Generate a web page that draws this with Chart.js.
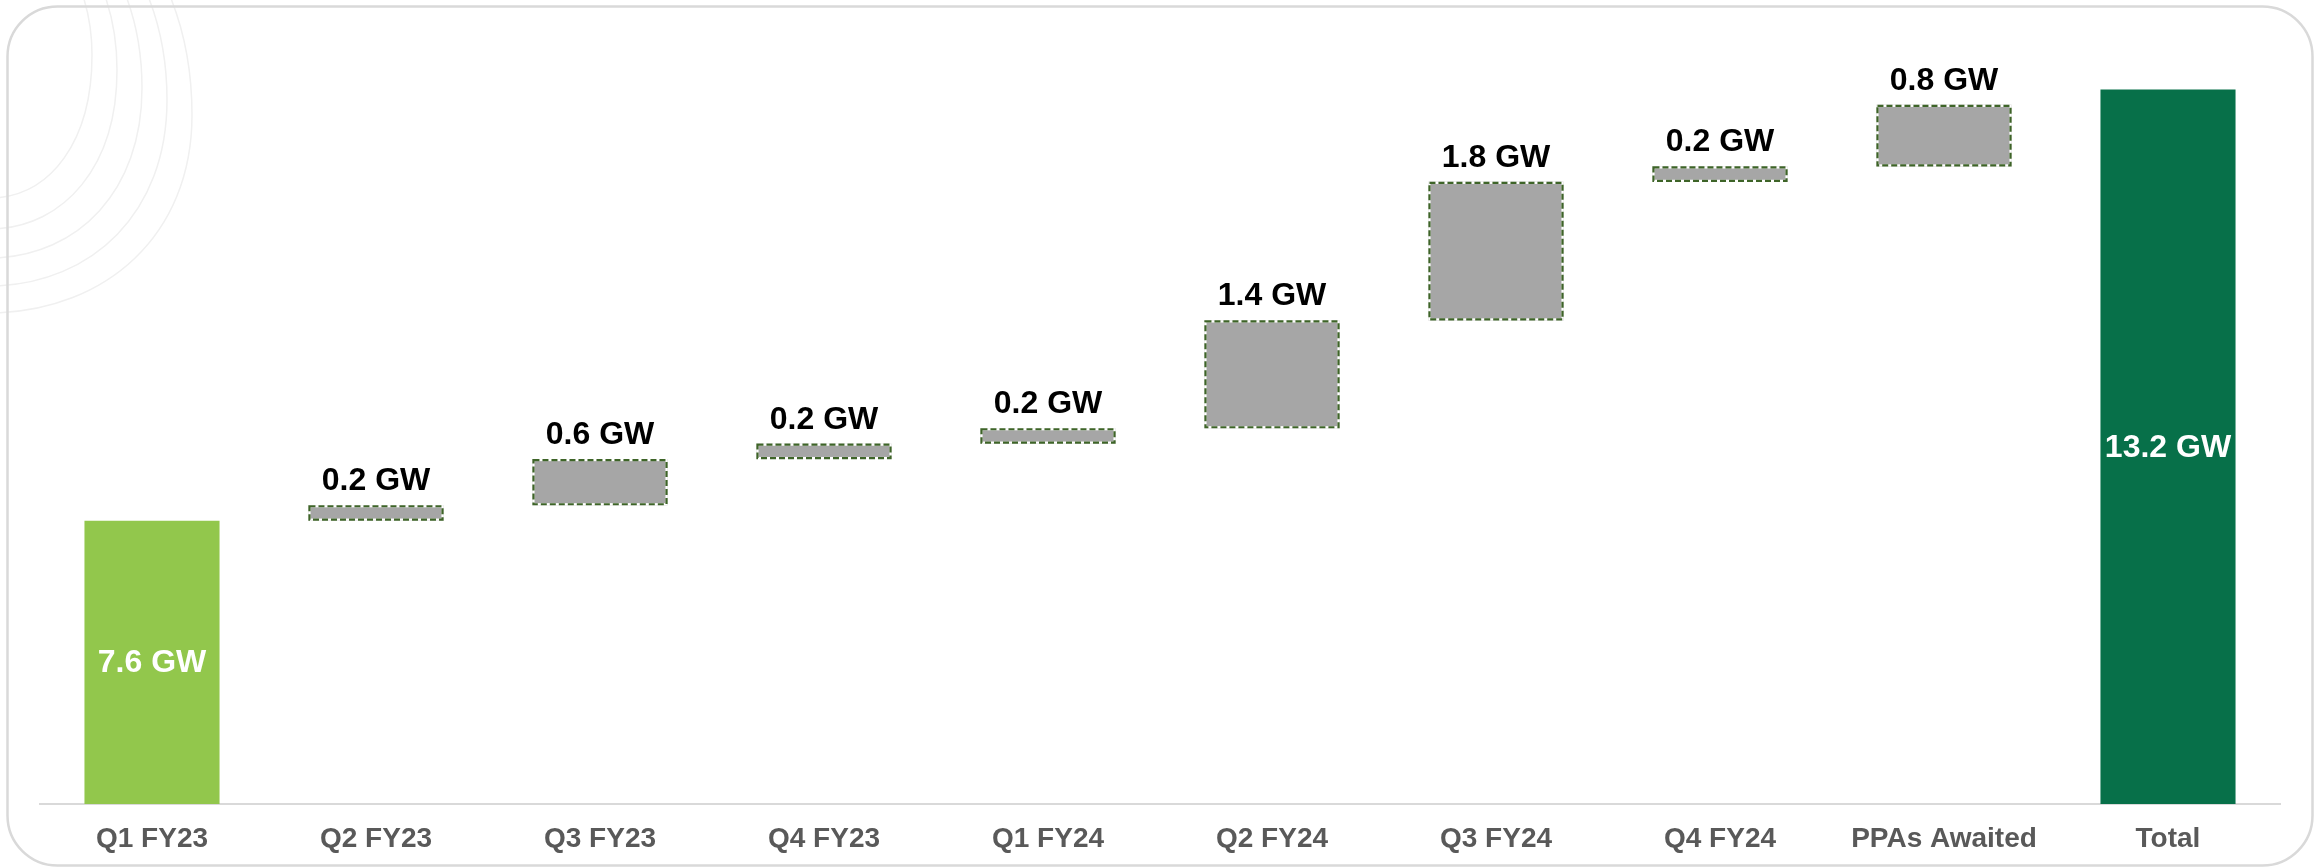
<!DOCTYPE html>
<html>
<head>
<meta charset="utf-8">
<title>Capacity build-up</title>
<script src="https://cdn.jsdelivr.net/npm/chart.js@4.4.1/dist/chart.umd.min.js"></script>
<style>
  html, body { margin: 0; padding: 0; background: #ffffff; }
  #wrap { width: 2318px; height: 868px; position: relative; }
</style>
</head>
<body>
<div id="wrap"><canvas id="chart"></canvas></div>
<script>
// capacity in GW
const categories = ['Q1 FY23', 'Q2 FY23', 'Q3 FY23', 'Q4 FY23', 'Q1 FY24', 'Q2 FY24', 'Q3 FY24', 'Q4 FY24', 'PPAs Awaited', 'Total'];
const startCapacity = 7.6;
const additions = [0.2, 0.6, 0.2, 0.2, 1.4, 1.8, 0.2, 0.8];
const totalCapacity = 13.2;
const unit = 'GW';

// floating bars: each step starts where the previous one ended
const barData = [startCapacity];
let running = startCapacity;
additions.forEach(a => {
    barData.push([running, running + a]);
    running += a;
});
barData.push(totalCapacity);

const labelValues = [startCapacity, ...additions, totalCapacity];
const colors = categories.map((c, i) => i === 0 ? '#92c74c' : (i === categories.length - 1 ? '#077049' : '#a6a6a6'));

const FONT = '"Liberation Sans", Arial, sans-serif';

// background decoration + rounded frame
const framePlugin = {
    id: 'frame',
    beforeDraw(chart) {
        const ctx = chart.ctx;
        ctx.save();
        ctx.fillStyle = '#ffffff';
        ctx.fillRect(0, 0, chart.width, chart.height);

        const arcs = [[85, 92, 55, 195], [107, 117, 70, 226], [128, 142, 88, 255], [150, 167, 100, 283], [172, 192, 115, 310]];
        ctx.strokeStyle = '#f0f0f0';
        ctx.lineWidth = 1.5;
        arcs.forEach(([tx, mx, my, ly]) => {
            ctx.beginPath();
            ctx.moveTo(tx - 2, -4);
            ctx.bezierCurveTo(tx + (mx - tx) * 0.8, my * 0.35, mx, my * 0.7, mx, my);
            ctx.bezierCurveTo(mx, my + (ly - my) * 0.62, mx * 0.55, ly, -6, ly + 3);
            ctx.stroke();
        });

        ctx.strokeStyle = '#d9d9d9';
        ctx.lineWidth = 2.5;
        ctx.beginPath();
        ctx.roundRect(7.5, 6.5, 2305, 859, 50);
        ctx.stroke();
        ctx.restore();
    }
};

// dashed outlines on the step bars and the GW labels
const labelPlugin = {
    id: 'barLabels',
    afterDatasetsDraw(chart) {
        const ctx = chart.ctx;
        const area = chart.chartArea;
        const meta = chart.getDatasetMeta(0);
        ctx.save();
        meta.data.forEach((bar, i) => {
            const {x, y, base, width} = bar.getProps(['x', 'y', 'base', 'width'], true);
            const top = Math.min(y, base);
            const bottom = Math.min(Math.max(y, base), area.bottom);
            const h = bottom - top;
            const text = labelValues[i].toFixed(1) + ' ' + unit;
            if (i > 0 && i < categories.length - 1) {
                const left = x - width / 2 + 1;
                ctx.lineWidth = 2.2;
                ctx.setLineDash([]);
                ctx.strokeStyle = '#ffffff';
                ctx.strokeRect(left, top + 1, width - 2, h - 2);
                ctx.setLineDash([6, 3]);
                ctx.strokeStyle = '#3e6428';
                ctx.strokeRect(left, top + 1, width - 2, h - 2);
                ctx.setLineDash([]);

                ctx.fillStyle = '#000000';
                ctx.font = 'bold 32px ' + FONT;
                ctx.textAlign = 'center';
                ctx.textBaseline = 'alphabetic';
                ctx.fillText(text, x, top - 15);
            } else {
                ctx.fillStyle = '#ffffff';
                ctx.font = 'bold 32px ' + FONT;
                ctx.textAlign = 'center';
                ctx.textBaseline = 'middle';
                ctx.fillText(text, x, top + h / 2 + 1);
            }
        });
        ctx.restore();
    }
};

new Chart(document.getElementById('chart'), {
    type: 'bar',
    data: {
        labels: categories,
        datasets: [{
            data: barData,
            backgroundColor: colors,
            borderWidth: 0,
            barPercentage: 0.603,
            categoryPercentage: 1
        }]
    },
    options: {
        responsive: true,
        maintainAspectRatio: false,
        animation: false,
        layout: { padding: { left: 40, right: 38, top: 34, bottom: 0 } },
        plugins: { legend: { display: false }, tooltip: { enabled: false } },
        scales: {
            x: {
                grid: { display: false, drawTicks: false },
                border: { display: true, color: '#d9d9d9', width: 2 },
                ticks: {
                    color: '#595959',
                    padding: 18,
                    font: { family: FONT, size: 28, weight: 'bold' }
                },
                afterFit(scale) { scale.height = 64; }
            },
            y: {
                display: false,
                min: 3.92,
                max: 13.92
            }
        }
    },
    plugins: [framePlugin, labelPlugin]
});
</script>
</body>
</html>
